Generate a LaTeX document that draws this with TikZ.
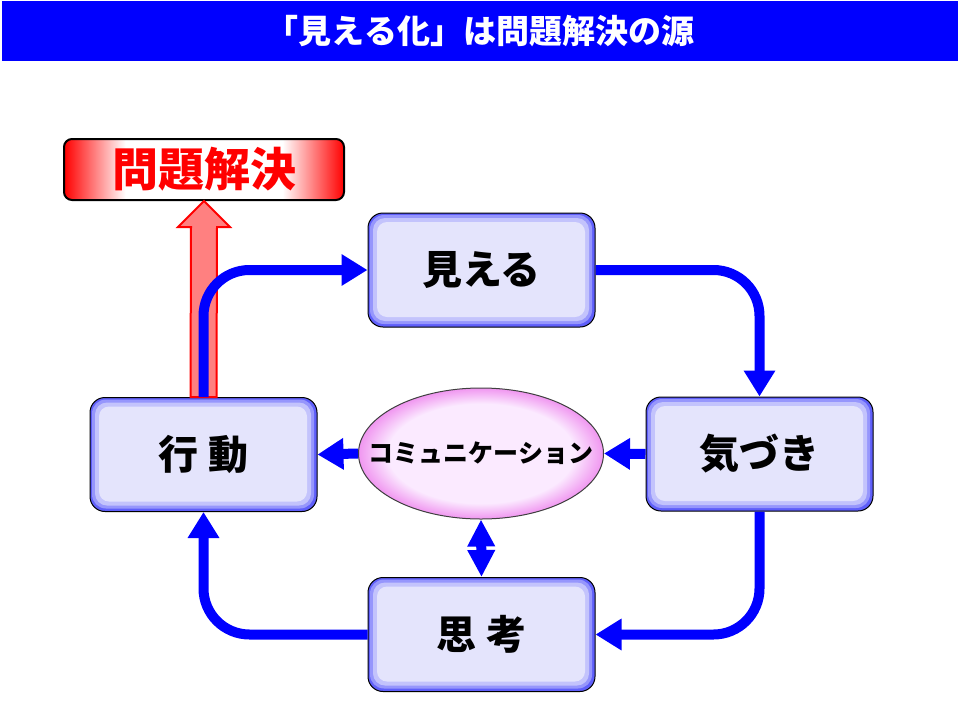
\documentclass[tikz,border=0pt]{standalone}
\usepackage{fontspec}
\setmainfont{Noto Sans CJK JP}
\usetikzlibrary{arrows.meta,calc,shapes.geometric}

\definecolor{titleblue}{RGB}{0,0,255}
\definecolor{flowblue}{RGB}{0,0,255}
\definecolor{boxedge}{RGB}{95,95,250}
\definecolor{boxmid}{RGB}{150,150,252}
\definecolor{boxsoft}{RGB}{195,195,252}
\definecolor{boxfill}{RGB}{228,228,252}
\definecolor{commedge}{RGB}{240,150,240}
\definecolor{commfill}{RGB}{251,234,255}
\definecolor{solvered}{RGB}{255,0,0}
\definecolor{arrowpink}{RGB}{255,128,128}

\pgfdeclareradialshading{commglow}{\pgfpoint{0bp}{0bp}}{color(0bp)=(commfill); color(19bp)=(commfill); color(25bp)=(commedge); color(50bp)=(commedge)}
\pgfdeclarehorizontalshading{solveglow}{100bp}{color(0bp)=(solvered); color(25bp)=(solvered); color(36bp)=(white); color(64bp)=(white); color(75bp)=(solvered); color(100bp)=(solvered)}

\begin{document}
\begin{tikzpicture}[x=1pt, y=-1pt,
    phase/.style={rounded corners=15pt, draw=black, line width=1pt, fill=boxedge,
        minimum width=227pt, minimum height=114pt, inner sep=0pt,
        font=\bfseries\fontsize{40pt}{44pt}\selectfont,
        path picture={
            \fill[boxmid, rounded corners=14pt] ([shift={(2pt,-2pt)}]path picture bounding box.north west) rectangle ([shift={(-3pt,3pt)}]path picture bounding box.south east);
            \fill[boxsoft, rounded corners=12pt] ([shift={(5pt,-5pt)}]path picture bounding box.north west) rectangle ([shift={(-6pt,6pt)}]path picture bounding box.south east);
            \fill[boxfill, rounded corners=10pt] ([shift={(9pt,-9pt)}]path picture bounding box.north west) rectangle ([shift={(-10pt,10pt)}]path picture bounding box.south east);
        }},
    flow/.style={draw=flowblue, line width=10pt, rounded corners=46pt, -{Triangle[length=26pt,width=30pt]}},
    both/.style={draw=flowblue, line width=10pt, {Triangle[length=27pt,width=26pt]}-{Triangle[length=27pt,width=26pt]}}]

    \useasboundingbox (0,0) rectangle (960,720);

    % Title bar
    \node[fill=titleblue, minimum width=956pt, minimum height=60pt, inner sep=0pt,
        text=white, font=\bfseries\fontsize{33pt}{36pt}\selectfont] (title) at (480,31) {「見える化」は問題解決の源};

    % Cycle boxes
    \node[phase] (see) at (481.5,270) {見える};
    \node[phase] (notice) at (759.5,454) {気づき};
    \node[phase] (think) at (481.5,634.5) {思 考};
    \node[phase] (act) at (203.5,454.5) {行 動};

    % Communication in the middle
    \node[ellipse, draw=black!75, line width=1pt, shading=commglow, minimum width=245pt, minimum height=131pt, inner sep=0pt,
        label={[font=\bfseries\fontsize{25pt}{25pt}\selectfont]center:コミュニケーション}] (comm) at (481,453.5) {};

    % Goal box
    \node[rounded corners=8pt, draw=black, line width=2pt, shade, shading=solveglow,
        minimum width=280pt, minimum height=61pt, inner sep=0pt,
        text=solvered, font=\bfseries\fontsize{46pt}{46pt}\selectfont] (solve) at (204,169.5) {問題解決};

    % Fat red arrow up to the goal
    \draw[draw=red, line width=2pt, fill=arrowpink]
        ($(act.north)+(-13,0)$) -- ($(solve.south)+(-13,26)$) -- ($(solve.south)+(-26,26)$) -- (solve.south)
        -- ($(solve.south)+(26,26)$) -- ($(solve.south)+(13,26)$) -- ($(act.north)+(13,0)$) -- cycle;

    % Cycle arrows
    \draw[flow] (act.north) |- (see.west);
    \draw[flow] (see.east) -| (notice.north);
    \draw[flow] (notice.south) |- (think.east);
    \draw[flow] (think.west) -| (act.south);

    % Arrows through communication
    \draw[flow] (notice.west) -- (comm.east);
    \draw[flow] (comm.west) -- (act.east);
    \draw[both] (comm.south) -- (think.north);
\end{tikzpicture}
\end{document}
